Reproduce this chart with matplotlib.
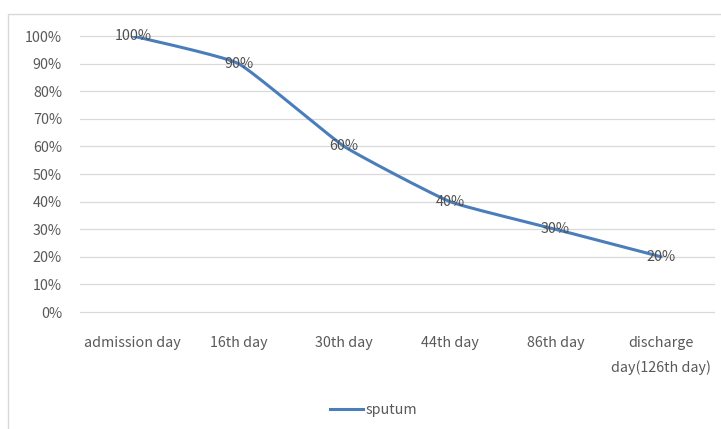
"""
plot.py

Sputum trend line chart (Excel-style smoothed line).
"""

import numpy as np
import matplotlib
matplotlib.use("Agg")
import matplotlib.pyplot as plt
from matplotlib.patches import Rectangle
from matplotlib.lines import Line2D

# =====================================================
# DATA
# =====================================================

categories = [
    "admission day",
    "16th day",
    "30th day",
    "44th day",
    "86th day",
    "discharge\nday(126th day)",
]

sputum = [1.00, 0.90, 0.60, 0.40, 0.30, 0.20]

y_ticks = [0.0, 0.1, 0.2, 0.3, 0.4, 0.5, 0.6, 0.7, 0.8, 0.9, 1.0]


# =====================================================
# SMOOTH CURVE (Catmull-Rom like Excel smoothing)
# =====================================================

def smooth_curve(x, y, n=30, tension=0.2):
    x = np.asarray(x, dtype=float)
    y = np.asarray(y, dtype=float)
    px = np.concatenate([[x[0]], x, [x[-1]]])
    py = np.concatenate([[y[0]], y, [y[-1]]])
    xs, ys = [], []
    for i in range(1, len(px) - 2):
        p0 = np.array([px[i - 1], py[i - 1]])
        p1 = np.array([px[i], py[i]])
        p2 = np.array([px[i + 1], py[i + 1]])
        p3 = np.array([px[i + 2], py[i + 2]])
        c1 = p1 + (p2 - p0) * tension / 3
        c2 = p2 - (p3 - p1) * tension / 3
        t = np.linspace(0, 1, n)[:, None]
        pts = ((1 - t) ** 3) * p1 + 3 * ((1 - t) ** 2) * t * c1 \
            + 3 * (1 - t) * t ** 2 * c2 + t ** 3 * p2
        xs.extend(pts[:, 0])
        ys.extend(pts[:, 1])
    return np.array(xs), np.array(ys)


# =====================================================
# PLOT
# =====================================================

plt.rcParams["font.family"] = ["Noto Sans CJK KR", "DejaVu Sans"]

line_color = "#4a7ebb"
text_color = "#595959"
font_size = 10.3

fig = plt.figure(figsize=(7.21, 4.29), dpi=100)

fig.patches.append(
    Rectangle(
        (8 / 721, -0.1),
        1.2,
        (429 - 14) / 429 + 0.1,
        transform=fig.transFigure,
        facecolor="none",
        edgecolor="#d9d9d9",
        linewidth=1.0,
        zorder=-5
    )
)

ax = fig.add_axes([80 / 721, 1 - 312 / 429, 634 / 721, 276 / 429])
ax.set_facecolor("none")

x = np.arange(len(categories))

sx, sy = smooth_curve(x, sputum)

ax.plot(sx, sy, color=line_color, linewidth=2.2, solid_capstyle="round")

for xi, yi in zip(x, sputum):
    ax.text(
        xi,
        yi,
        f"{int(round(yi * 100))}%",
        ha="center",
        va="center",
        fontsize=font_size,
        color="#505050"
    )

ax.set_xlim(-0.5, len(categories) - 0.5)
ax.set_ylim(0, 1)

ax.set_yticks(y_ticks)
ax.set_yticklabels([f"{int(round(v * 100))}%" for v in y_ticks])

ax.set_xticks(x)
ax.set_xticklabels(categories, linespacing=1.95, va="top")

ax.tick_params(axis="both", length=0, colors=text_color, labelsize=font_size)
ax.tick_params(axis="x", pad=17)
ax.tick_params(axis="y", pad=13)

ax.grid(axis="y", color="#d9d9d9", linewidth=0.9)
for gl in ax.get_ygridlines():
    gl.set_clip_on(False)
ax.set_axisbelow(True)

for spine in ax.spines.values():
    spine.set_visible(False)

fig.lines.append(
    Line2D(
        [330 / 721, 363 / 721],
        [1 - 409 / 429, 1 - 409 / 429],
        transform=fig.transFigure,
        color=line_color,
        linewidth=2.2
    )
)

fig.text(
    366 / 721,
    1 - 410 / 429,
    "sputum",
    ha="left",
    va="center",
    fontsize=font_size,
    color=text_color
)

fig.savefig("out.png", dpi=100)
